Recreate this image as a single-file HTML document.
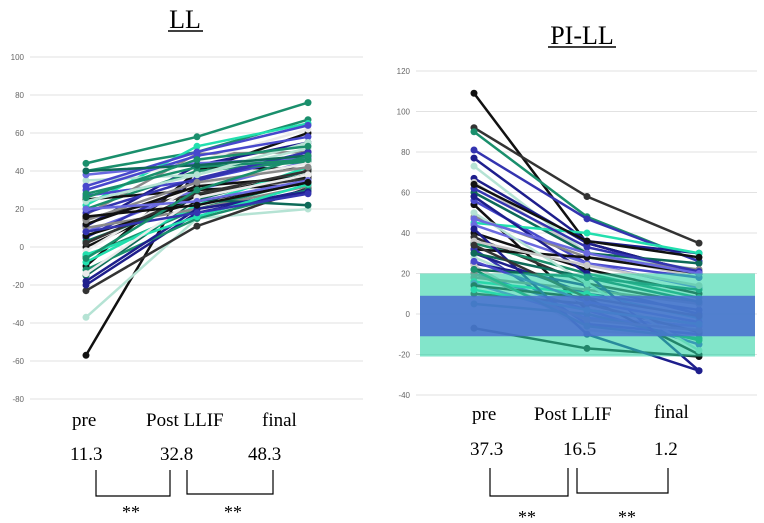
<!DOCTYPE html>
<html><head><meta charset="utf-8"><style>
body{margin:0;background:#fff;}
svg{display:block;font-family:"Liberation Serif",serif;}
.tick{font-family:"Liberation Sans",sans-serif;font-size:8px;fill:#666;}
</style></head><body>
<svg id="s" width="764" height="523">
<text x="185" y="28" font-size="26" text-anchor="middle">LL</text>
<line x1="168" y1="31" x2="203" y2="31" stroke="#000" stroke-width="1.5"/>
<text x="582" y="44" font-size="26" text-anchor="middle">PI-LL</text>
<line x1="548" y1="47" x2="616" y2="47" stroke="#000" stroke-width="1.5"/>
<g id="L"></g>
<g id="R"></g>
<g font-size="19">
<text x="72" y="426">pre</text><text x="146" y="426">Post LLIF</text><text x="262" y="426">final</text>
<text x="70" y="460">11.3</text><text x="160" y="460">32.8</text><text x="248" y="460">48.3</text>
</g>
<path d="M96 470V496H170V470M187 470V494H273V470" fill="none" stroke="#000" stroke-width="1.2"/>
<text x="122" y="518" font-size="18">**</text><text x="224" y="518" font-size="18">**</text>
<g font-size="19">
<text x="472" y="420">pre</text><text x="534" y="420">Post LLIF</text><text x="654" y="418">final</text>
<text x="470" y="455">37.3</text><text x="563" y="455">16.5</text><text x="654" y="455">1.2</text>
</g>
<path d="M490 468V496H568V468M577 468V493H668V468" fill="none" stroke="#000" stroke-width="1.2"/>
<text x="518" y="523" font-size="18">**</text><text x="618" y="523" font-size="18">**</text>
</svg>
<script>
const ns="http://www.w3.org/2000/svg";
const leftTicks=[100,80,60,40,20,0,-20,-40,-60,-80];
const rightTicks=[120,100,80,60,40,20,0,-20,-40];
const leftSeries=[[44,58,76],[40,50,67],[-57,42,41],[-10,40,60],[11,43,55],[-37,15,20],[-23,11,31],[22,53,65],[27,35,48],[17,49,50],[33,45,62],[8,30,45],[-15,25,40],[5,35,50],[20,40,45],[-5,20,35],[0,27,38],[25,30,33],[-20,18,30],[35,38,52],[15,28,36],[-8,22,42],[30,48,58],[10,20,32],[-2,33,44],[38,44,47],[3,25,22],[18,36,50],[-12,15,30],[28,42,46],[12,32,37],[6,24,34],[-18,20,29],[24,38,55],[2,28,40],[-4,16,33],[32,50,64],[14,34,42],[-14,26,38],[20,24,35],[40,43,48],[8,18,28],[-6,30,48],[26,46,53],[16,22,34]];
const rightSeries=[[109,35,20],[92,58,35],[90,48,26],[54,2,-5],[81,47,26],[77,36,30],[73,30,22],[67,35,20],[65,30,18],[60,30,25],[56,25,18],[48,28,22],[45,40,30],[44,25,13],[40,22,10],[38,15,5],[35,20,8],[32,28,20],[32,-5,-10],[30,10,2],[28,5,-8],[25,14,0],[24,-8,-12],[22,18,12],[20,2,-15],[18,12,5],[16,10,-2],[15,-2,-6],[14,8,-20],[10,5,-9],[5,0,-13],[-7,-17,-21],[62,33,21],[58,20,-28],[50,15,-18],[42,-10,-28],[36,24,14],[30,18,6],[26,6,-4],[20,-3,-8],[12,2,-5],[47,30,20],[64,36,28],[34,8,-1],[22,-6,-12]];
const teal=[20,-21], blueBand=[9,-11];
const leftColors=["#1a8f6c","#1a8f6c","#111","#111","#1e1e8c","#b5e3d4","#333","#22dfae","#4848cc","#8a8a8a","#eaeaea","#6a6ae0","#0e6a58","#3434b0"];
const rightColors=["#111","#333","#1a8f6c","#111","#3434b0","#1e1e8c","#b5e3d4","#1e1e8c","#c8c8c8","#0e6a58","#4848cc","#8a8a8a","#22dfae","#6a6ae0"];
function mk(t,a,p){const e=document.createElementNS(ns,t);for(const k in a)e.setAttribute(k,a[k]);p.appendChild(e);return e;}
function chart(g,ticks,series,y,xs,x0,x1,bands,colors){
 ticks.forEach(t=>{
  const l=mk("line",{x1:x0,x2:x1,y1:y(t),y2:y(t),stroke:"#e2e2e2","stroke-width":1},g);
  
  
  const tx=mk("text",{x:x0-6,y:y(t)+3,"text-anchor":"end",class:"tick"},g);tx.textContent=t;
  
  
 });
 series.forEach((s,i)=>{
  const c=colors[i%colors.length];
  const pl=mk("polyline",{points:s.map((v,j)=>xs[j]+","+y(v)).join(" "),fill:"none",stroke:c,"stroke-width":2.5},g);
  
  
  s.forEach((v,j)=>{const ci=mk("circle",{cx:xs[j],cy:y(v),r:3.5,fill:c},g);
   
   });
 });
 if(bands){
  const b1=mk("rect",{x:420,width:335,y:y(teal[0]),height:y(teal[1])-y(teal[0]),fill:"#2fd3a6","fill-opacity":0.6},g);
  
  
  const b2=mk("rect",{x:420,width:335,y:y(blueBand[0]),height:y(blueBand[1])-y(blueBand[0]),fill:"#4a6fd0","fill-opacity":0.85},g);
  
  
 }
}
const yL=v=>247-v*1.9, yR=v=>314-v*2.025;
chart(document.getElementById("L"),leftTicks,leftSeries,yL,[86,197,308],30,363,false,leftColors);
chart(document.getElementById("R"),rightTicks,rightSeries,yR,[474,587,699],416,757,true,rightColors);
</script>
</body></html>
